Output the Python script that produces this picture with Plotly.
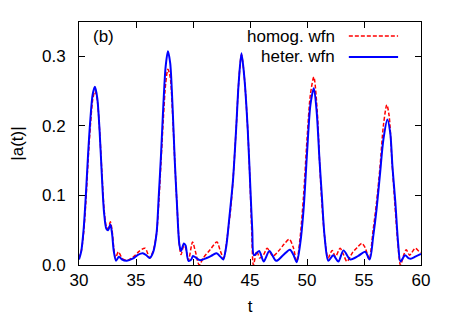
import plotly.graph_objects as go

# heterogeneous wave function (blue, solid)
t_het = [30.0, 30.2, 30.4, 30.6, 30.8, 31.0, 31.2, 31.4, 31.6, 31.8, 32.0, 32.2, 32.4, 32.55, 32.75,
         32.9, 33.05, 33.25, 33.5, 33.75, 34.2, 34.7, 35.2, 35.6, 35.9, 36.2, 36.5, 36.8, 37.0, 37.2,
         37.4, 37.6, 37.8, 38.0, 38.2, 38.4, 38.6, 38.8, 38.95, 39.2, 39.35, 39.6, 39.85, 40.0, 40.3,
         40.6, 41.2, 41.7, 42.07, 42.4, 42.65, 42.9, 43.2, 43.5, 43.8, 44.0, 44.25, 44.5, 44.8, 45.06,
         45.2, 45.35, 45.8, 46.2, 46.7, 47.3, 47.9, 48.5, 48.8, 49.1, 49.4, 49.7, 50.0, 50.3, 50.6,
         50.85, 51.1, 51.3, 51.55, 51.87, 52.3, 52.75, 53.2, 53.8, 54.5, 55.1, 55.5, 55.8, 56.1, 56.4,
         56.7, 57.05, 57.3, 57.5, 57.75, 58.0, 58.2, 58.6, 58.9, 59.1, 59.5, 60.0]
a_het = [0.008, 0.02, 0.05, 0.1, 0.16, 0.21, 0.245, 0.256, 0.24, 0.195, 0.13, 0.075, 0.052, 0.05, 0.058,
         0.045, 0.02, 0.006, 0.012, 0.008, 0.006, 0.009, 0.015, 0.017, 0.014, 0.01, 0.018, 0.045, 0.1, 0.16,
         0.23, 0.285, 0.307, 0.29, 0.23, 0.15, 0.085, 0.03, 0.02, 0.031, 0.028, 0.006, 0.008, 0.013, 0.01,
         0.007, 0.01, 0.014, 0.017, 0.012, 0.008, 0.025, 0.07, 0.12, 0.2, 0.26, 0.304, 0.27, 0.195, 0.1,
         0.05, 0.014, 0.02, 0.005, 0.02, 0.006, 0.014, 0.022, 0.015, 0.004, 0.03, 0.08, 0.16, 0.23, 0.254,
         0.22, 0.15, 0.1, 0.04, 0.006, 0.014, 0.005, 0.021, 0.008, 0.013, 0.019, 0.008, 0.04, 0.08, 0.13,
         0.18, 0.209, 0.19, 0.14, 0.09, 0.03, 0.005, 0.014, 0.01, 0.009, 0.012, 0.016]

# homogeneous wave function (red, dashed)
t_hom = [30.0, 30.2, 30.4, 30.6, 30.8, 31.0, 31.2, 31.4, 31.6, 31.8, 32.0, 32.2, 32.4, 32.55, 32.75,
         32.9, 33.05, 33.2, 33.45, 33.7, 33.9, 34.3, 34.8, 35.3, 35.8, 36.2, 36.5, 36.8, 37.0, 37.2,
         37.4, 37.6, 37.8, 38.0, 38.2, 38.4, 38.6, 38.8, 38.95, 39.2, 39.35, 39.6, 39.96, 40.2, 40.55,
         40.9, 41.5, 42.1, 42.4, 42.7, 43.0, 43.3, 43.5, 43.8, 44.0, 44.25, 44.5, 44.8, 45.0, 45.15,
         45.3, 45.6, 45.85, 46.2, 46.5, 47.0, 47.5, 48.0, 48.45, 48.8, 49.1, 49.4, 49.7, 50.0, 50.3,
         50.6, 50.9, 51.1, 51.3, 51.55, 51.85, 52.2, 52.5, 52.9, 53.2, 53.5, 54.0, 54.4, 54.8, 55.1,
         55.45, 55.8, 56.1, 56.4, 56.7, 57.0, 57.2, 57.45, 57.7, 57.95, 58.2, 58.5, 58.7, 59.0, 59.2,
         59.5, 59.8, 60.0]
a_hom = [0.01, 0.02, 0.045, 0.09, 0.15, 0.2, 0.237, 0.25, 0.237, 0.195, 0.135, 0.08, 0.055, 0.052, 0.062,
         0.05, 0.025, 0.01, 0.019, 0.012, 0.008, 0.007, 0.012, 0.02, 0.024, 0.01, 0.02, 0.045, 0.09, 0.15,
         0.21, 0.26, 0.281, 0.27, 0.22, 0.15, 0.085, 0.03, 0.015, 0.028, 0.025, 0.007, 0.033, 0.02, 0.0,
         0.01, 0.022, 0.033, 0.02, 0.01, 0.04, 0.08, 0.12, 0.2, 0.26, 0.302, 0.27, 0.195, 0.12, 0.05,
         0.0, 0.02, 0.01, 0.015, 0.024, 0.013, 0.02, 0.03, 0.037, 0.025, 0.005, 0.04, 0.1, 0.18, 0.245,
         0.27, 0.22, 0.15, 0.09, 0.04, 0.01, 0.021, 0.012, 0.024, 0.015, 0.005, 0.018, 0.025, 0.031, 0.025,
         0.008, 0.05, 0.09, 0.14, 0.2, 0.23, 0.215, 0.15, 0.09, 0.035, 0.0, 0.015, 0.022, 0.014, 0.018,
         0.024, 0.02, 0.018]

FONT = "Liberation Sans, Arial, sans-serif"
DASH = "4px,2px"

fig = go.Figure()
fig.add_trace(go.Scatter(x=t_hom, y=a_hom, mode="lines", name="homog. wfn",
                         line=dict(color="#ff0000", width=1.5, dash=DASH, shape="spline", smoothing=0.8)))
fig.add_trace(go.Scatter(x=t_het, y=a_het, mode="lines", name="heter. wfn",
                         line=dict(color="#0000ff", width=2, shape="spline", smoothing=0.8)))

axis_common = dict(showline=True, linecolor="black", linewidth=1, mirror="ticks", ticks="inside",
                   ticklen=6, tickcolor="black", showgrid=False, zeroline=False, automargin=False,
                   tickfont=dict(family=FONT, size=17, color="black"))
fig.update_xaxes(range=[30, 60], dtick=5, tick0=30, **axis_common,
                 title=dict(text="t", font=dict(family=FONT, size=17, color="black"), standoff=10))
fig.update_yaxes(range=[0, 0.349], dtick=0.1, tickformat=".1f", ticklabelstandoff=9, **axis_common,
                 title=dict(text="|a(t)|", font=dict(family=FONT, size=17, color="black"), standoff=24))

# legend drawn gnuplot style: text right-aligned, sample on the right
legend_rows = [("homog. wfn", "#ff0000", DASH, 1.5, 0.942), ("heter. wfn", "#0000ff", "solid", 2, 0.856)]
for label, col, dash, lw, yy in legend_rows:
    fig.add_annotation(x=0.754, y=yy, xref="paper", yref="paper", text=label, showarrow=False,
                       xanchor="right", yanchor="middle", font=dict(family=FONT, size=17, color="black"))
    fig.add_shape(type="line", xref="paper", yref="paper", x0=0.789, x1=0.933, y0=yy, y1=yy,
                  line=dict(color=col, width=lw, dash=dash))

fig.add_annotation(x=0.035, y=0.942, xref="paper", yref="paper", text="(b)", showarrow=False,
                   xanchor="left", yanchor="middle", font=dict(family=FONT, size=17, color="black"))

# page body adds an 8px offset, so the figure is sized to sit inside the window
fig.update_layout(width=455, height=316, margin=dict(l=71, r=42, t=14, b=59),
                  plot_bgcolor="white", paper_bgcolor="white", showlegend=False,
                  font=dict(family=FONT, size=17, color="black"))

fig.write_html("out.html")
